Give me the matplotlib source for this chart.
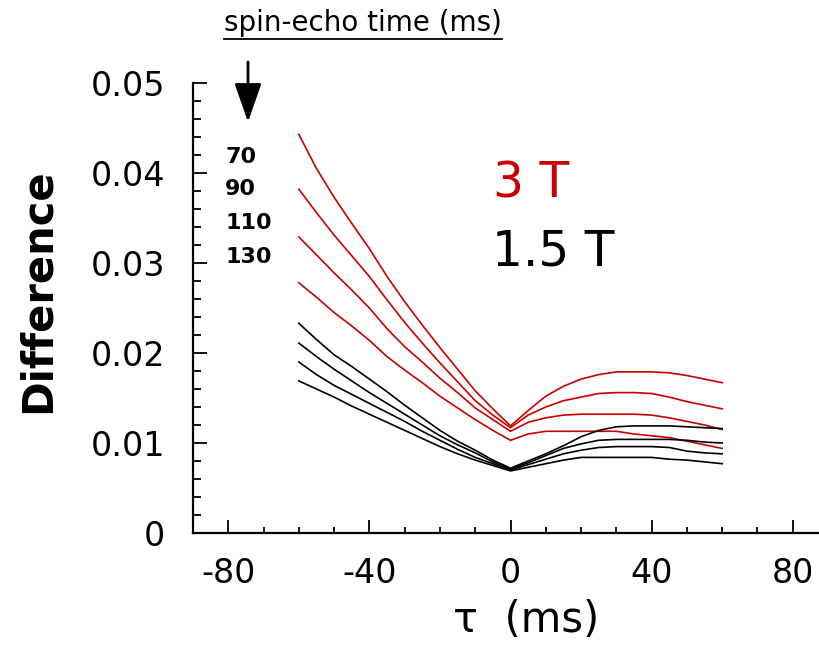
import matplotlib
matplotlib.use("Agg")
import matplotlib.pyplot as plt
from matplotlib.ticker import MultipleLocator, FuncFormatter
from matplotlib.lines import Line2D

plt.rcParams["font.family"] = "DejaVu Sans"
plt.rcParams["axes.unicode_minus"] = False

tau = [-60, -55, -50, -45, -40, -35, -30, -25, -20, -15, -10, -5, 0,
       5, 10, 15, 20, 25, 30, 35, 40, 45, 50, 55, 60]

echo_times = ["70", "90", "110", "130"]

# 3 T, spin-echo time 70 / 90 / 110 / 130 ms
red_70 = [.0443, .0405, .0373, .0344, .0316, .0285, .0257, .0231, .0206, .0182, .0158, .0138, .0119,
          .0136, .0152, .0163, .0171, .0176, .0179, .0179, .0179, .0178, .0175, .0171, .0167]
red_90 = [.0382, .0356, .0331, .0308, .0285, .0259, .0234, .0211, .0189, .0168, .0147, .0131, .0117,
          .0131, .0140, .0147, .0151, .0155, .0156, .0156, .0155, .0151, .0146, .0142, .0138]
red_110 = [.0329, .0309, .0289, .0270, .0250, .0227, .0207, .0190, .0172, .0156, .0139, .0126, .0113,
           .0123, .0128, .0131, .0132, .0132, .0132, .0132, .0131, .0128, .0124, .0120, .0115]
red_130 = [.0278, .0262, .0245, .0230, .0214, .0196, .0181, .0167, .0152, .0139, .0126, .0114, .0103,
           .0110, .0113, .0113, .0113, .0113, .0113, .0110, .0108, .0106, .0102, .0098, .0094]

# 1.5 T
black_70 = [.0233, .0215, .0198, .0185, .0171, .0157, .0142, .0128, .0114, .0102, .0092, .0081, .0072,
            .0080, .0088, .0097, .0107, .0114, .0118, .0119, .0119, .0119, .0118, .0117, .0116]
black_90 = [.0211, .0196, .0182, .0169, .0156, .0144, .0132, .0120, .0108, .0098, .0089, .0079, .0071,
            .0078, .0086, .0094, .0099, .0103, .0104, .0104, .0104, .0104, .0103, .0101, .0100]
black_110 = [.0190, .0176, .0164, .0154, .0144, .0134, .0124, .0113, .0103, .0093, .0084, .0077, .0070,
             .0076, .0082, .0088, .0092, .0095, .0096, .0096, .0096, .0095, .0091, .0089, .0088]
black_130 = [.0169, .0160, .0151, .0141, .0132, .0123, .0114, .0105, .0096, .0088, .0081, .0075, .0069,
             .0073, .0077, .0081, .0084, .0084, .0084, .0084, .0084, .0082, .0081, .0079, .0077]

RED = "#c80000"

W, H = 819, 646
fig = plt.figure(figsize=(W / 100, H / 100), dpi=100)
ax = fig.add_axes([193 / W, 1 - 533 / H, (828 - 193) / W, 450 / H])

for y in [red_70, red_90, red_110, red_130]:
    ax.plot(tau, y, color=RED, lw=1.2)
for y in [black_70, black_90, black_110, black_130]:
    ax.plot(tau, y, color="black", lw=1.2)

ax.set_xlim(-90, 90)
ax.set_ylim(0, 0.05)
ax.spines["top"].set_visible(False)
ax.spines["right"].set_visible(False)
for s in ["left", "bottom"]:
    ax.spines[s].set_linewidth(1.6)
    ax.spines[s].set_clip_on(False)

ax.xaxis.set_major_locator(MultipleLocator(40))
ax.xaxis.set_minor_locator(MultipleLocator(10))
ax.yaxis.set_major_locator(MultipleLocator(0.01))
ax.yaxis.set_minor_locator(MultipleLocator(0.002))
ax.yaxis.set_major_formatter(FuncFormatter(lambda v, p: "0" if abs(v) < 1e-9 else f"{v:.2f}"))
ax.xaxis.set_major_formatter(FuncFormatter(lambda v, p: f"{v:.0f}"))

ax.tick_params(axis="both", which="both", direction="in", width=1.3)
ax.tick_params(axis="y", which="major", length=10, pad=20, labelsize=24)
ax.tick_params(axis="y", which="minor", length=6)
ax.tick_params(axis="x", which="major", length=9.5, pad=17, labelsize=24)
ax.tick_params(axis="x", which="minor", length=4.5)

fig.text(38 / W, 1 - 291 / H, "Difference", rotation=90, fontsize=30,
         fontweight="bold", ha="center", va="center")
fig.text(526 / W, 1 - 620 / H, "\u03c4  (ms)", fontsize=30, ha="center", va="center")

fig.text(493 / W, 1 - 198 / H, "3 T", color=RED, fontsize=35, ha="left", va="baseline")
fig.text(492 / W, 1 - 265 / H, "1.5 T", color="black", fontsize=35, ha="left", va="baseline")

title = fig.text(363 / W, 1 - 31 / H, "spin-echo time (ms)", fontsize=20,
                 ha="center", va="baseline")

for lab, ypix in zip(echo_times, [157, 189, 223, 257]):
    fig.text(225 / W, 1 - ypix / H, lab, fontsize=16, fontweight="bold",
             ha="left", va="center")

ax.annotate("", xy=(248 / W, 1 - 122 / H), xycoords="figure fraction",
            xytext=(248 / W, 1 - 62 / H), textcoords="figure fraction",
            arrowprops=dict(arrowstyle="-|>,head_length=1.2,head_width=0.42",
                            color="black", lw=2, mutation_scale=20,
                            shrinkA=0, shrinkB=0))

# underline the spin-echo caption
fig.canvas.draw()
bb = title.get_window_extent()
uy = (bb.y0 - 2) / H
fig.add_artist(Line2D([bb.x0 / W, bb.x1 / W], [uy, uy], color="black", lw=1.3,
                      transform=fig.transFigure))

fig.savefig("out.png", dpi=100)
